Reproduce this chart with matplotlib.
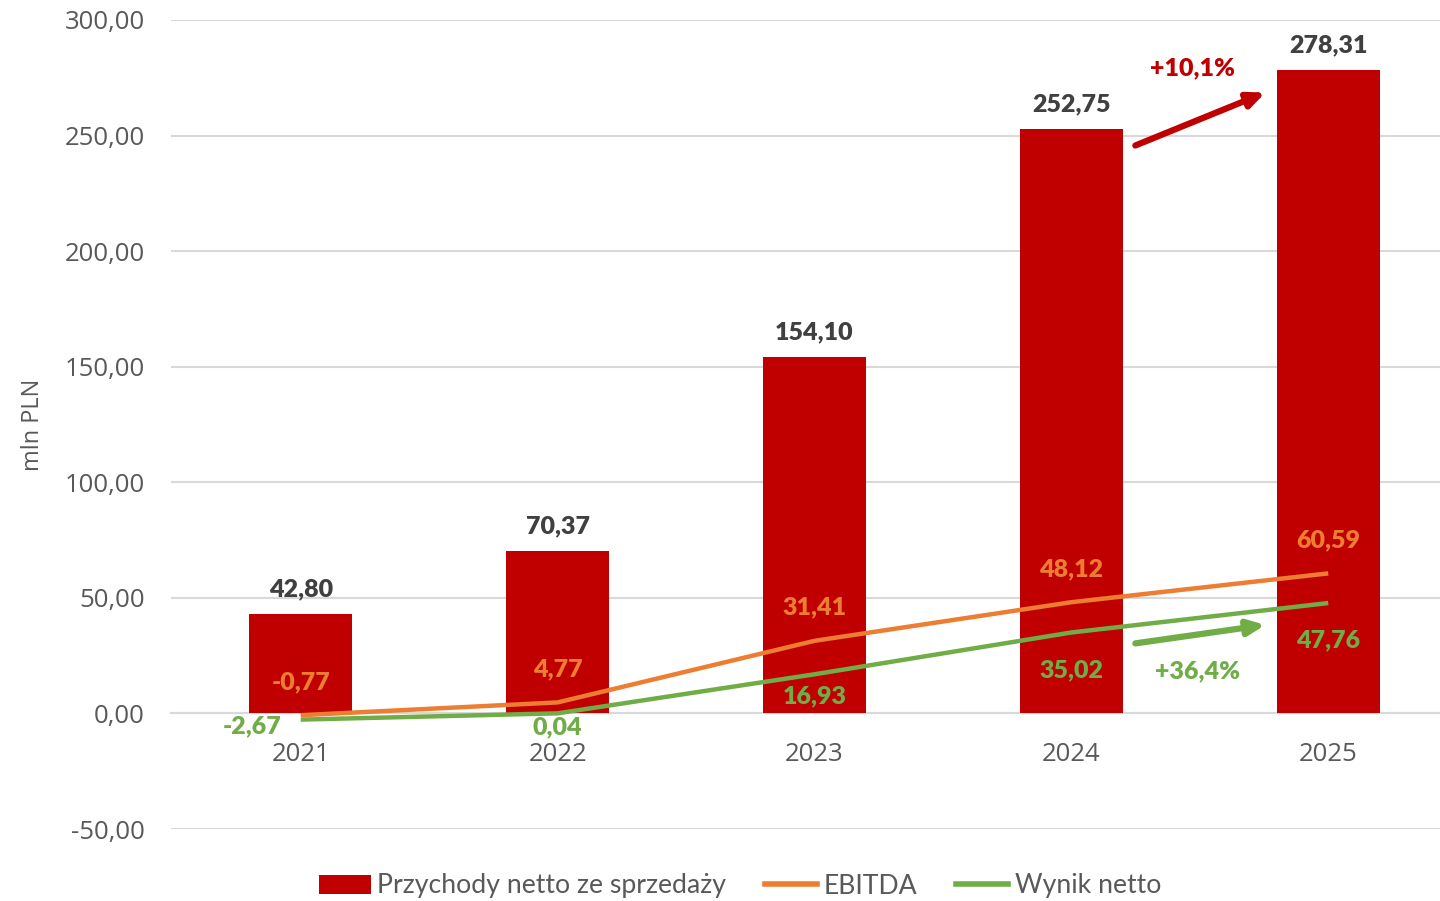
import matplotlib
matplotlib.use("Agg")
import matplotlib.pyplot as plt
from matplotlib.patches import Patch
from matplotlib.lines import Line2D

years = ["2021", "2022", "2023", "2024", "2025"]
revenue = [42.80, 70.37, 154.10, 252.75, 278.31]
ebitda = [-0.77, 4.77, 31.41, 48.12, 60.59]
net = [-2.67, 0.04, 16.93, 35.02, 47.76]
yticks = [-50, 0, 50, 100, 150, 200, 250, 300]

RED = "#C00000"
ORANGE = "#ED7D31"
GREEN = "#70AD47"
TICK = "#595959"
LAB = "#404040"
GRID = "#D9D9D9"

def fmt(v):
    return f"{v:.2f}".replace(".", ",")

plt.rcParams['font.family'] = ['Open Sans', 'DejaVu Sans']
fig = plt.figure(figsize=(14.4, 9.01), dpi=100)
ax = fig.add_axes([171/1440, 72/901, (1440-171)/1440, (829-20)/901])

for s in ['top', 'right', 'left']:
    ax.spines[s].set_visible(False)
ax.spines['bottom'].set_position(('data', 0))
ax.spines['bottom'].set_color(GRID)
ax.spines['bottom'].set_linewidth(1.5)
ax.spines['bottom'].set_zorder(1)

x = list(range(len(years)))
ax.bar(x, revenue, width=0.4, color=RED, zorder=2)
ax.plot(x, ebitda, color=ORANGE, lw=3.2, zorder=3, solid_capstyle='butt')
ax.plot(x, net, color=GREEN, lw=3.2, zorder=3, solid_capstyle='butt')

ax.set_ylim(-50, 300)
ax.set_xlim(-0.505, 4.435)
ax.set_yticks(yticks)
ax.set_yticklabels([fmt(v) for v in yticks])
ax.set_xticks(x)
ax.set_xticklabels(years)
ax.tick_params(axis='y', length=0, pad=19, labelsize=18.5, labelcolor=TICK)
ax.tick_params(axis='x', length=0, pad=20.5, labelsize=18.5, labelcolor=TICK)
ax.yaxis.grid(True, color=GRID, lw=1.5, zorder=0)
ax.set_axisbelow(True)
ax.set_ylabel("mln PLN", fontsize=17, color=TICK, labelpad=14)

lblfont = dict(family=['Lato', 'DejaVu Sans'], fontweight='heavy', fontsize=18)
for i, v in enumerate(revenue):
    ax.annotate(fmt(v), (i, v), xytext=(0, 10), textcoords='offset points',
                ha='center', va='bottom', color=LAB, **lblfont)
for i, v in enumerate(ebitda):
    ax.annotate(fmt(v), (i, v), xytext=(0, 24), textcoords='offset points',
                ha='center', va='center', color=ORANGE, **lblfont)
net_offsets = [(-35, -5), (0, -10), (0, -16), (0, -27), (0, -27)]
for i, v in enumerate(net):
    ax.annotate(fmt(v), (i, v), xytext=net_offsets[i], textcoords='offset points',
                ha='center', va='center', color=GREEN, **lblfont)

# growth arrows
ax.annotate("", xy=(3.755, 268.6), xytext=(3.249, 245.7),
            arrowprops=dict(arrowstyle="-|>,head_length=1.0,head_width=0.45", color=RED, lw=4.5,
                            shrinkA=0, shrinkB=0))
ax.text(3.471, 279, "+10,1%", ha='center', va='center', color=RED, **lblfont)
ax.annotate("", xy=(3.755, 38.3), xytext=(3.249, 30.3),
            arrowprops=dict(arrowstyle="-|>,head_length=1.0,head_width=0.45", color=GREEN, lw=4.5,
                            shrinkA=0, shrinkB=0))
ax.text(3.49, 18.2, "+36,4%", ha='center', va='center', color=GREEN, **lblfont)

handles = [Patch(facecolor=RED, label="Przychody netto ze sprzedaży"),
           Line2D([0], [0], color=ORANGE, lw=4, label="EBITDA"),
           Line2D([0], [0], color=GREEN, lw=4, label="Wynik netto")]
leg = fig.legend(handles=handles, loc='center', bbox_to_anchor=(740/1440, 1-886/901),
                 ncol=3, frameon=False, handlelength=1.95, handleheight=0.7,
                 handletextpad=0.25, columnspacing=1.45,
                 prop={'family': ['Lato', 'DejaVu Sans'], 'size': 19.2})
for t in leg.get_texts():
    t.set_color(TICK)

fig.savefig("out.png", dpi=100)
